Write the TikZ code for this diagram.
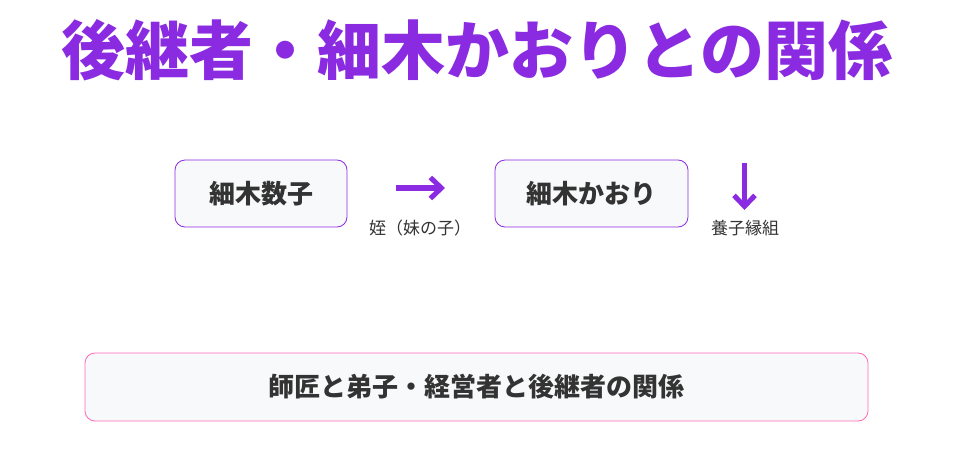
\documentclass[tikz,border=0pt]{standalone}
\usepackage{fontspec}
\setmainfont{Noto Sans CJK JP}
\usepackage{tikz}
\usetikzlibrary{positioning,arrows.meta}
\definecolor{violet}{HTML}{8A2BE2}
\definecolor{pinkline}{HTML}{FF69B4}
\definecolor{boxfill}{HTML}{F8F9FA}
\definecolor{ink}{HTML}{333333}

\begin{document}
\begin{tikzpicture}[
    x=1pt, y=1pt,
    person/.style={%
      draw=violet,
      fill=boxfill,
      rounded corners=10pt,
      line width=0.8pt,
      minimum height=67pt,
      text=ink,
      font=\fontsize{26}{30}\selectfont\bfseries,
    },
    relation/.style={%
      text=ink,
      font=\fontsize{17}{20}\selectfont,
    },
    link/.style={%
      draw=violet,
      line width=5.3pt,
      -{Straight Barb[length=11pt,width=21pt,line width=5pt]},
    },
  ]

    \useasboundingbox (0,0) rectangle (955,-455);

    \node [text=violet, font=\fontsize{64}{70}\selectfont\bfseries] (title)
      at (477,-50) {後継者・細木かおりとの関係};

    \node [person, minimum width=172pt] (kazuko) at (261,-193.5) {細木数子};
    \node [person, minimum width=193pt] (kaori) at (591.5,-193.5) {細木かおり};

    \coordinate (r1a) at (396,-188);
    \coordinate (r1b) at (445,-188);
    \draw [link] (r1a) -- (r1b);
    \node [relation] (niece) at (420,-228) {姪（妹の子）};

    \coordinate (r2a) at (744.5,-163);
    \coordinate (r2b) at (744.5,-210);
    \draw [link] (r2a) -- (r2b);
    \node [relation] (adopt) at (745,-228) {養子縁組};

    \node [person, draw=pinkline, minimum width=783pt, minimum height=68pt]
      (summary) at (476.5,-387) {師匠と弟子・経営者と後継者の関係};
\end{tikzpicture}
\end{document}
